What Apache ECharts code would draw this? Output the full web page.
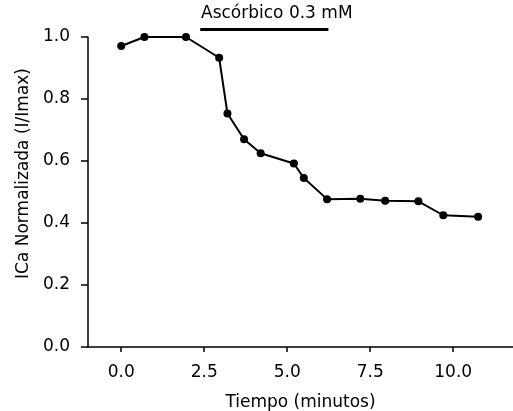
<!DOCTYPE html>
<html>
<head>
<meta charset="utf-8">
<script src="https://cdn.jsdelivr.net/npm/echarts@6/dist/echarts.min.js"></script>
<style>
  html, body { margin: 0; padding: 0; background: #fff; }
  #chart { width: 513px; height: 411px; }
</style>
</head>
<body>
<div id="chart"></div>
<script>
// Time (minutes) and normalized calcium current I/Imax
var tiempo = [0.0, 0.7, 1.95, 2.95, 3.2, 3.7, 4.2, 5.2, 5.5, 6.2, 7.2, 7.95, 8.95, 9.7, 10.75];
var icaNorm = [0.971, 1.0, 1.0, 0.933, 0.753, 0.670, 0.625, 0.592, 0.545, 0.477, 0.478, 0.472, 0.470, 0.425, 0.420];

// Ascorbate application period (minutes) and the height of its bar
var ascorbicoInicio = 2.38;
var ascorbicoFin = 6.24;
var ascorbicoNivel = 1.024;
var ascorbicoTexto = 'Ascórbico 0.3 mM';

// Tick labels
var xTicks = [0, 2.5, 5, 7.5, 10];
var yTicks = [0, 0.2, 0.4, 0.6, 0.8, 1.0];

var FONT = 'DejaVu Sans';
var chart = echarts.init(document.getElementById('chart'), null, { renderer: 'canvas' });

var points = tiempo.map(function (t, i) { return [t, icaNorm[i]]; });

chart.setOption({
  animation: false,
  backgroundColor: '#ffffff',
  grid: { left: 88, right: 0, top: 37, bottom: 64, containLabel: false, outerBoundsMode: 'none' },
  xAxis: {
    type: 'value',
    min: -1,
    max: 11.8,
    name: 'Tiempo (minutos)',
    nameLocation: 'middle',
    nameGap: 47,
    nameTextStyle: { fontFamily: FONT, fontSize: 17, color: '#000' },
    axisLine: { show: true, onZero: false, lineStyle: { color: '#000', width: 1.5 } },
    axisTick: { show: true, customValues: xTicks, length: 5, lineStyle: { color: '#000', width: 1.5 } },
    axisLabel: {
      customValues: xTicks,
      margin: 17,
      fontFamily: FONT, fontSize: 17, color: '#000',
      formatter: function (v) { return v.toFixed(1); }
    },
    splitLine: { show: false }
  },
  yAxis: {
    type: 'value',
    min: 0,
    max: 1,
    interval: 0.2,
    axisLine: { show: true, onZero: false, lineStyle: { color: '#000', width: 1.5 } },
    axisTick: { show: true, length: 7, lineStyle: { color: '#000', width: 1.5 } },
    axisLabel: {
      margin: 18,
      fontFamily: FONT, fontSize: 17, color: '#000',
      formatter: function (v) { return v.toFixed(1); }
    },
    splitLine: { show: false }
  },
  graphic: [
    {
      type: 'text',
      left: 15,
      top: 68,
      rotation: Math.PI / 2,
      style: {
        text: 'ICa Normalizada (I/Imax)',
        fontFamily: FONT, fontSize: 17, fill: '#000'
      }
    },
    {
      type: 'text',
      left: 201,
      top: 5,
      style: {
        text: ascorbicoTexto,
        fontFamily: FONT, fontSize: 17, fill: '#000'
      }
    }
  ],
  series: [
    {
      type: 'line',
      data: points,
      symbol: 'circle',
      symbolSize: 8,
      lineStyle: { color: '#000', width: 2 },
      itemStyle: { color: '#000' },
      z: 3
    },
    {
      type: 'line',
      clip: false,
      data: [[ascorbicoInicio, ascorbicoNivel], [ascorbicoFin, ascorbicoNivel]],
      symbol: 'none',
      lineStyle: { color: '#000', width: 3 },
      silent: true
    }
  ]
});
</script>
</body>
</html>
